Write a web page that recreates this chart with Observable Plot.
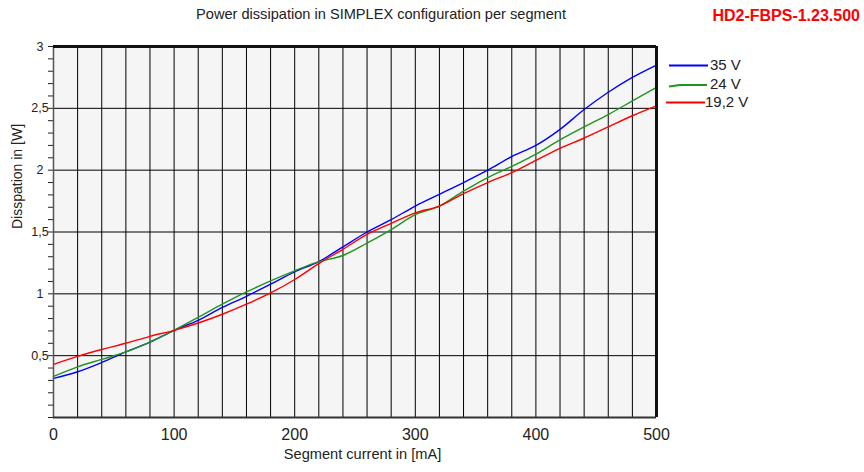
<!DOCTYPE html>
<html>
<head>
<meta charset="utf-8">
<script src="https://cdn.jsdelivr.net/npm/d3@7"></script>
<script src="https://cdn.jsdelivr.net/npm/@observablehq/plot@0.6"></script>
<style>
  html, body { margin: 0; padding: 0; background: #fff; }
  #wrap { position: relative; width: 864px; height: 472px; font-family: "Liberation Sans", Arial, sans-serif; }
  #wrap svg.plot { position: absolute; left: 0; top: 0; }
  .title { position: absolute; left: 0; top: 6.5px; width: 762px; text-align: center; font-size: 14.6px; line-height: 15px; color: #222; }
  .code { position: absolute; right: 4px; top: 7.5px; font-size: 16px; line-height: 16px; font-weight: bold; color: #ff0000; }
  #legend { position: absolute; left: 0; top: 0; }
</style>
</head>
<body>
<div id="wrap">
  <div class="title">Power dissipation in SIMPLEX configuration per segment</div>
  <div class="code">HD2-FBPS-1.23.500</div>
</div>
<script>
// Segment current [mA]
const current = [0, 20, 40, 60, 80, 100, 120, 140, 160, 180, 200, 220, 240, 260, 280, 300, 320, 340, 360, 380, 400, 420, 440, 460, 480, 500];
// Dissipation [W] per supply voltage
const v35  = [0.316, 0.37, 0.445, 0.53, 0.61, 0.705, 0.786, 0.89, 0.98, 1.078, 1.178, 1.26, 1.38, 1.50, 1.60, 1.71, 1.805, 1.90, 2.00, 2.11, 2.20, 2.33, 2.49, 2.63, 2.75, 2.85];
const v24  = [0.332, 0.41, 0.47, 0.53, 0.61, 0.705, 0.81, 0.916, 1.015, 1.105, 1.186, 1.26, 1.31, 1.41, 1.52, 1.64, 1.71, 1.83, 1.94, 2.03, 2.13, 2.245, 2.35, 2.45, 2.56, 2.67];
const v192 = [0.43, 0.494, 0.55, 0.60, 0.656, 0.705, 0.764, 0.835, 0.916, 1.007, 1.116, 1.245, 1.36, 1.48, 1.57, 1.655, 1.71, 1.81, 1.90, 1.98, 2.08, 2.177, 2.26, 2.35, 2.44, 2.52];
const seriesNames = ["35 V", "24 V", "19,2 V"];
const seriesColors = ["#0000ff", "#1e961e", "#ff0000"];
const xTicks = [0, 100, 200, 300, 400, 500];
const yTicks = [0.5, 1, 1.5, 2, 2.5, 3];

const seriesValues = [v35, v24, v192];
const data = [];
seriesNames.forEach((s, k) => current.forEach((x, i) => data.push({x, y: seriesValues[k][i], s})));

const comma = d => String(d).replace(".", ",");

const chart = Plot.plot({
  width: 864, height: 472,
  marginLeft: 53, marginRight: 208, marginTop: 46, marginBottom: 55,
  x: {domain: [0, 500]},
  y: {domain: [0, 3]},
  color: {domain: seriesNames, range: seriesColors},
  style: {fontFamily: "'Liberation Sans', Arial, sans-serif", color: "#222", background: "transparent", overflow: "visible"},
  marks: [
    Plot.frame({fill: "#f5f5f5", stroke: null}),
    Plot.gridX(d3.range(0, 501, 20), {stroke: "#000", strokeOpacity: 1, strokeWidth: 1}),
    Plot.gridY(d3.range(0.5, 3, 0.5), {stroke: "#000", strokeOpacity: 1, strokeWidth: 1}),
    Plot.axisY(d3.range(0, 30.5, 1).map(d => d / 10), {tickSize: 5, tickFormat: () => "", stroke: "#222", label: null}),
    Plot.axisY(yTicks, {tickSize: 0, tickPadding: 13.5, textAnchor: "middle", tickFormat: comma, fontSize: 12.5, label: null}),
    Plot.axisX(xTicks, {tickSize: 0, tickPadding: 11.5, fontSize: 16, label: null}),
    Plot.line(data, {x: "x", y: "y", stroke: "s", strokeWidth: 1.4, curve: "monotone-x"}),
    Plot.ruleX([0], {stroke: "#555", strokeWidth: 1.5}),
    Plot.ruleY([0], {stroke: "#333", strokeWidth: 2}),
    Plot.ruleY([3], {stroke: "#111", strokeWidth: 3}),
    Plot.ruleX([500], {stroke: "#111", strokeWidth: 3}),
    Plot.text(["Disspation in [W]"], {frameAnchor: "left", rotate: -90, dx: -36, dy: -3, fontSize: 14, fill: "#222"}),
    Plot.text(["Segment current in [mA]"], {frameAnchor: "bottom", dx: 7.5, dy: 41.5, fontSize: 14.6, fill: "#222"})
  ]
});
chart.classList.add("plot");
document.getElementById("wrap").appendChild(chart);

// Legend at the right of the plot
const legendPos = [
  {x1: 669, x2: 708, y1: 65.5, y2: 65.5, tx: 710, ty: 70},
  {x1: 669, x2: 707, y1: 86.5, y2: 85, tx: 710, ty: 88.5},
  {x1: 666, x2: 705, y1: 102.5, y2: 102.5, tx: 705, ty: 107}
];
const leg = d3.select("#wrap").append("svg").attr("id", "legend").attr("width", 864).attr("height", 472);
seriesNames.forEach((s, i) => {
  const p = legendPos[i];
  leg.append("path").attr("d", i === 1 ? `M${p.x1},${p.y1}L${p.x1 + 11},${p.y2}L${p.x2},${p.y2}` : `M${p.x1},${p.y1}L${p.x2},${p.y2}`)
    .attr("stroke", seriesColors[i]).attr("stroke-width", 2).attr("fill", "none");
  leg.append("text").attr("x", p.tx).attr("y", p.ty).attr("font-size", 15).attr("fill", "#222")
    .attr("font-family", "'Liberation Sans', Arial, sans-serif").text(s);
});
</script>
</body>
</html>
